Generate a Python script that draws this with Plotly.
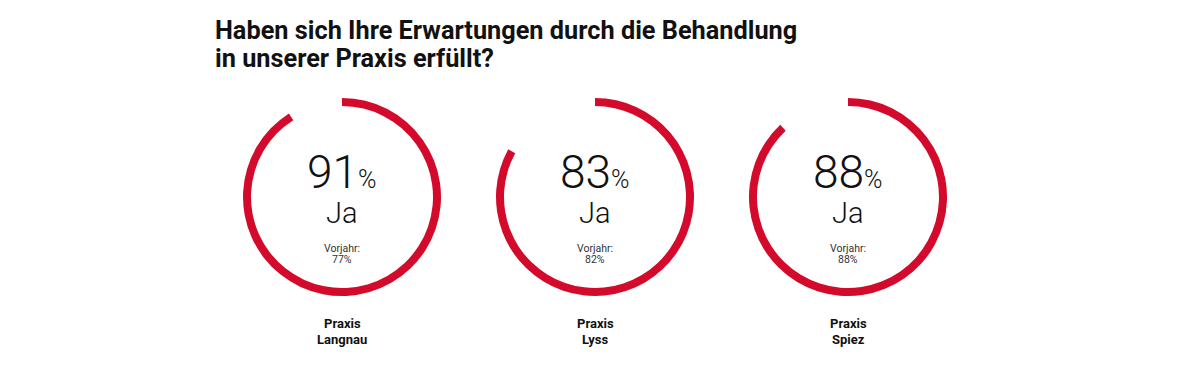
import plotly.graph_objects as go

W, H = 1198, 372
practices = ["Langnau", "Lyss", "Spiez"]
practice_prefix = "Praxis"
yes_pct = [91, 83, 88]
prev_pct = [77, 82, 88]
answer = "Ja"
prev_label = "Vorjahr:"
title_lines = ["Haben sich Ihre Erwartungen durch die Behandlung", "in unserer Praxis erfüllt?"]

RED = "#d40a2c"
OFF = 8  # page body margin
centers_x = [342, 595, 848]
center_y = 197
R = 99
thick = 8

def px(x):
    return (x - OFF) / W

def py(y):
    return 1 - (y - OFF) / H

def label(x, y, text, size, color="#111111", weight=None, anchor="center"):
    f = dict(family="Roboto", size=size, color=color)
    if weight:
        f["weight"] = weight
    return dict(x=px(x), y=py(y), xref="paper", yref="paper", xanchor=anchor,
                yanchor="middle", text=text, showarrow=False, font=f)

fig = go.Figure()
annotations = []
for i, (name, v, p) in enumerate(zip(practices, yes_pct, prev_pct)):
    cx = centers_x[i]
    fig.add_trace(go.Pie(
        values=[v, 100 - v],
        marker=dict(colors=[RED, "rgba(0,0,0,0)"], line=dict(width=0)),
        hole=1 - thick / R,
        sort=False,
        direction="clockwise",
        rotation=0,
        textinfo="none",
        hoverinfo="skip",
        showlegend=False,
        domain=dict(x=[px(cx - R), px(cx + R)], y=[py(center_y + R), py(center_y - R)]),
    ))
    annotations.append(label(cx, 172, f"{v}<span style='font-size:25px'>%</span>", 46, weight=300))
    annotations.append(label(cx, 213, answer, 29, weight=300))
    annotations.append(label(cx, 248, prev_label, 10.5, color="#333333"))
    annotations.append(label(cx, 260, f"{p}%", 10.5, color="#333333"))
    annotations.append(label(cx, 323, f"<b>{practice_prefix}</b>", 13))
    annotations.append(label(cx, 339, f"<b>{name}</b>", 13))

annotations.append(label(213, 31, f"<b>{title_lines[0]}</b>", 25.3, anchor="left"))
annotations.append(label(213, 59, f"<b>{title_lines[1]}</b>", 25.3, anchor="left"))

fig.update_layout(
    width=W, height=H,
    margin=dict(l=0, r=0, t=0, b=0),
    paper_bgcolor="white", plot_bgcolor="white",
    annotations=annotations,
)
fig.write_html("out.html")
